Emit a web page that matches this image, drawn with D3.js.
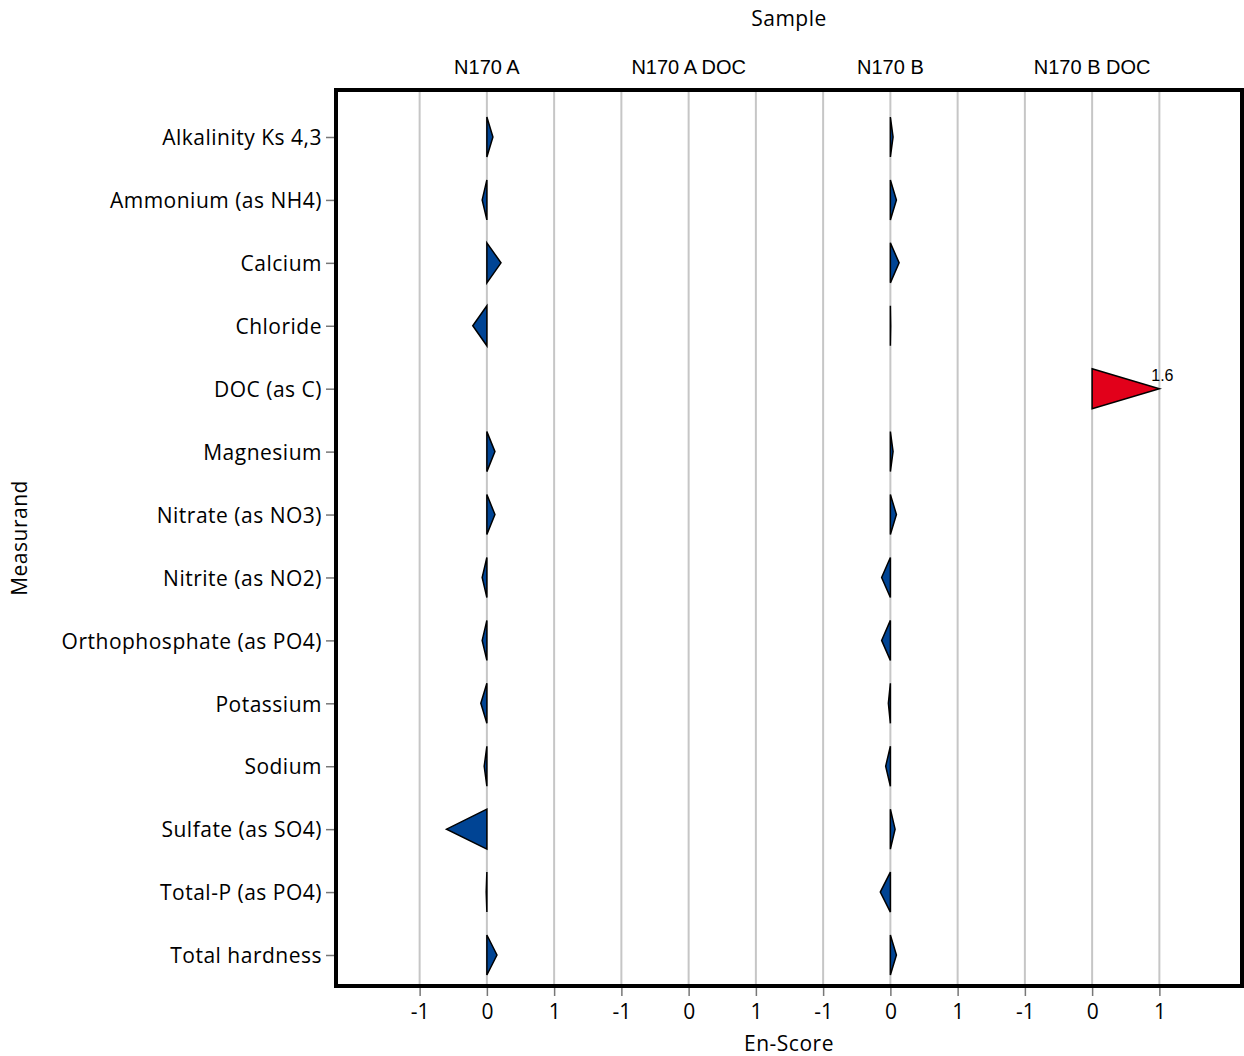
<!DOCTYPE html>
<html>
<head>
<meta charset="utf-8">
<script src="https://cdn.jsdelivr.net/npm/d3@7"></script>
<style>
  html, body { margin: 0; padding: 0; background: #fff; }
  svg { display: block; }
</style>
</head>
<body>
<svg id="chart" width="1244" height="1056"></svg>
<script>
const measurands = [
  "Alkalinity Ks 4,3", "Ammonium (as NH4)", "Calcium", "Chloride", "DOC (as C)",
  "Magnesium", "Nitrate (as NO3)", "Nitrite (as NO2)", "Orthophosphate (as PO4)",
  "Potassium", "Sodium", "Sulfate (as SO4)", "Total-P (as PO4)", "Total hardness"
];
const samples = ["N170 A", "N170 A DOC", "N170 B", "N170 B DOC"];
const scoresN170A    = [0.09, -0.07, 0.21, -0.21, null, 0.12, 0.12, -0.07, -0.07, -0.09, -0.04, -0.60, -0.01, 0.15];
const scoresN170ADOC = [null, null, null, null, null, null, null, null, null, null, null, null, null, null];
const scoresN170B    = [0.04, 0.09, 0.13, 0.005, null, 0.04, 0.09, -0.13, -0.13, -0.03, -0.07, 0.07, -0.15, 0.09];
const scoresN170BDOC = [null, null, null, null, 1.6, null, null, null, null, null, null, null, null, null];
const tickLabels = ["-1", "0", "1"];
const tickValues = [-1, 0, 1];

const seriesBySample = {
  "N170 A": scoresN170A,
  "N170 A DOC": scoresN170ADOC,
  "N170 B": scoresN170B,
  "N170 B DOC": scoresN170BDOC
};

const svg = d3.select("#chart");
const frame = { left: 336, right: 1242, top: 90, bottom: 986 };

const xBand = d3.scaleBand().domain(samples).range([386, 1193]).padding(0);
const xInner = d3.scaleLinear().domain([-1.5, 1.5]).range([0, xBand.bandwidth()]);
const y = d3.scalePoint().domain(measurands).range([137, 955]);

const sansFont = "'Open Sans', 'Noto Sans', sans-serif";
const arialFont = "'Liberation Sans', Arial, sans-serif";
const sansSize = 21;
const sansSpacing = "0.5px";

// gridlines
const gridData = [];
samples.forEach(s => tickValues.forEach(t => gridData.push({ s, t })));
svg.append("g").selectAll("line").data(gridData).join("line")
  .attr("x1", d => xBand(d.s) + xInner(d.t))
  .attr("x2", d => xBand(d.s) + xInner(d.t))
  .attr("y1", frame.top).attr("y2", frame.bottom)
  .attr("stroke", "#c6c6c6").attr("stroke-width", 2);

// triangles
const marks = [];
samples.forEach(s => {
  seriesBySample[s].forEach((v, i) => {
    if (v !== null && v !== undefined) marks.push({ s, m: measurands[i], v });
  });
});
const halfH = 20;
const g = svg.append("g");
g.selectAll("path").data(marks).join("path")
  .attr("d", d => {
    const x0 = xBand(d.s) + xInner(0);
    const vc = Math.max(-1, Math.min(1, d.v));
    const x1 = xBand(d.s) + xInner(vc);
    const yc = y(d.m);
    return `M${x0},${yc - halfH}L${x1},${yc}L${x0},${yc + halfH}Z`;
  })
  .attr("fill", d => Math.abs(d.v) > 1 ? "#e2001a" : "#004494")
  .attr("stroke", "#000")
  .attr("stroke-width", 1.5)
  .attr("stroke-linejoin", "miter");

// labels for clipped values
g.selectAll("text").data(marks.filter(d => Math.abs(d.v) > 1)).join("text")
  .attr("x", d => xBand(d.s) + xInner(Math.max(-1, Math.min(1, d.v))) + 3)
  .attr("y", d => y(d.m) - 8)
  .attr("text-anchor", "middle")
  .attr("font-family", arialFont)
  .attr("font-size", 16)
  .attr("fill", "#000")
  .text(d => d.v.toFixed(1));

// left axis
const yAxis = svg.append("g")
  .attr("transform", `translate(${frame.left},0)`)
  .call(d3.axisLeft(y).tickSize(10).tickPadding(4));
yAxis.select(".domain").remove();
yAxis.selectAll(".tick line").attr("stroke", "#777").attr("stroke-width", 1.5);
yAxis.selectAll(".tick text")
  .attr("y", 1)
  .attr("font-family", sansFont).attr("font-size", sansSize)
  .attr("letter-spacing", sansSpacing).attr("fill", "#000");

// bottom axes per sample
samples.forEach(s => {
  const ax = svg.append("g")
    .attr("transform", `translate(${xBand(s)},${frame.bottom})`)
    .call(d3.axisBottom(xInner).tickValues(tickValues)
      .tickFormat((d, i) => tickLabels[i]).tickSize(10).tickPadding(8));
  ax.select(".domain").remove();
  ax.selectAll(".tick line").attr("stroke", "#777").attr("stroke-width", 1.5);
  ax.selectAll(".tick text")
    .attr("font-family", sansFont).attr("font-size", sansSize).attr("fill", "#000");
});

// top sample labels
const topAxis = svg.append("g")
  .attr("transform", `translate(0,${frame.top})`)
  .call(d3.axisTop(xBand).tickSize(0).tickPadding(16));
topAxis.select(".domain").remove();
topAxis.selectAll(".tick text")
  .attr("font-family", arialFont).attr("font-size", 20).attr("fill", "#000");

// frame
svg.append("rect")
  .attr("x", frame.left).attr("y", frame.top)
  .attr("width", frame.right - frame.left).attr("height", frame.bottom - frame.top)
  .attr("fill", "none").attr("stroke", "#000").attr("stroke-width", 4);

// titles
svg.append("text")
  .attr("x", (frame.left + frame.right) / 2).attr("y", 26)
  .attr("text-anchor", "middle")
  .attr("font-family", sansFont).attr("font-size", sansSize).attr("letter-spacing", sansSpacing)
  .text("Sample");
svg.append("text")
  .attr("x", (frame.left + frame.right) / 2).attr("y", 1051)
  .attr("text-anchor", "middle")
  .attr("font-family", sansFont).attr("font-size", sansSize).attr("letter-spacing", sansSpacing)
  .text("En-Score");
svg.append("text")
  .attr("transform", `translate(27,${(frame.top + frame.bottom) / 2}) rotate(-90)`)
  .attr("text-anchor", "middle")
  .attr("font-family", sansFont).attr("font-size", sansSize).attr("letter-spacing", sansSpacing)
  .text("Measurand");
</script>
</body>
</html>
